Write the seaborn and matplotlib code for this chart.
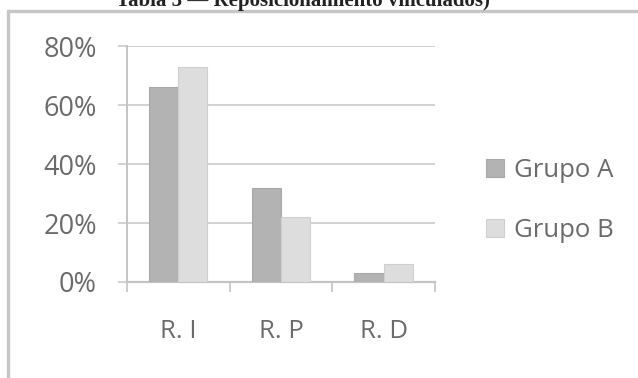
import matplotlib
matplotlib.use("Agg")
import matplotlib.pyplot as plt
from matplotlib.lines import Line2D
from matplotlib.patches import Patch
from matplotlib.ticker import PercentFormatter, FixedLocator
import seaborn as sns
import pandas as pd

# Data
categories = ["R. I", "R. P", "R. D"]
grupo_a = [0.66, 0.32, 0.03]
grupo_b = [0.73, 0.22, 0.06]
series_names = ["Grupo A", "Grupo B"]
y_ticks = [0.0, 0.2, 0.4, 0.6, 0.8]

df = pd.DataFrame({
    "categoria": categories * 2,
    "valor": grupo_a + grupo_b,
    "grupo": [series_names[0]] * len(categories) + [series_names[1]] * len(categories),
})

sns.set_theme(style="white")
plt.rcParams["font.family"] = ["Open Sans", "DejaVu Sans"]

text_gray = "#6b6b6b"
axis_gray = "#c4c4c4"
grid_gray = "#d2d2d2"
colors = {"Grupo A": "#b3b3b3", "Grupo B": "#dddddd"}
edges = {"Grupo A": "#a8a8a8", "Grupo B": "#cfcfcf"}

fig = plt.figure(figsize=(6.38, 3.78), dpi=100)
ax = fig.add_axes([0.1986, 0.254, 0.4835, 0.624])

sns.barplot(data=df, x="categoria", y="valor", hue="grupo", order=categories,
            hue_order=series_names, palette=colors, width=0.57, ax=ax,
            errorbar=None, legend=False, zorder=3)
for cont, name in zip(ax.containers, series_names):
    for bar in cont:
        bar.set_edgecolor(edges[name])
        bar.set_linewidth(0.8)

ax.set_ylim(0, 0.8)
ax.set_xlim(-0.5, len(categories) - 0.5)
ax.yaxis.set_major_locator(FixedLocator(y_ticks))
ax.yaxis.set_major_formatter(PercentFormatter(1.0, decimals=0))
ax.set_xlabel("")
ax.set_ylabel("")

# Horizontal gridlines extend left of the axis like tick marks
ax.yaxis.grid(True, color=grid_gray, linewidth=1.4, zorder=0)
ax.set_axisbelow(True)
ax.tick_params(axis="y", which="major", direction="out", length=6.5, width=1.4,
               color=grid_gray, labelsize=19.5, labelcolor=text_gray, pad=15, left=True)

# Category boundary ticks under the x axis
ax.xaxis.set_minor_locator(FixedLocator([-0.5, 0.5, 1.5, 2.5]))
ax.tick_params(axis="x", which="major", length=0, labelsize=18.5,
               labelcolor=text_gray, pad=27)
ax.tick_params(axis="x", which="minor", direction="out", length=7.5, width=1.2,
               color=axis_gray, bottom=True)

for side in ["top", "right"]:
    ax.spines[side].set_visible(False)
ax.spines["left"].set_color(axis_gray)
ax.spines["left"].set_linewidth(1.4)
ax.spines["bottom"].set_color(axis_gray)
ax.spines["bottom"].set_linewidth(1.6)

# Legend
handles = [Patch(facecolor=colors[n], edgecolor=edges[n], linewidth=0.8) for n in series_names]
leg = fig.legend(handles, series_names, loc="center left",
                 bbox_to_anchor=(0.725, 0.47), frameon=False, fontsize=18.5,
                 handlelength=0.7, handleheight=0.7, handletextpad=0.4,
                 labelspacing=1.35, labelcolor=text_gray)

# Outer chart frame (left and top edges)
fig.add_artist(Line2D([0.0133, 0.0133], [0.0, 0.971], transform=fig.transFigure,
                      color="#c6c6c6", linewidth=2.4))
fig.add_artist(Line2D([0.0133, 1.0], [0.971, 0.971], transform=fig.transFigure,
                      color="#c6c6c6", linewidth=2.4))

# Caption above the chart, running off the top edge
fig.text(0.475, 0.985, "Tabla 3 — Reposicionamiento vinculados)", ha="center",
         va="baseline", fontsize=15, fontweight="bold", color="#222222",
         family=["Liberation Serif", "DejaVu Serif"])

fig.savefig("out.png", dpi=100, facecolor="white")
